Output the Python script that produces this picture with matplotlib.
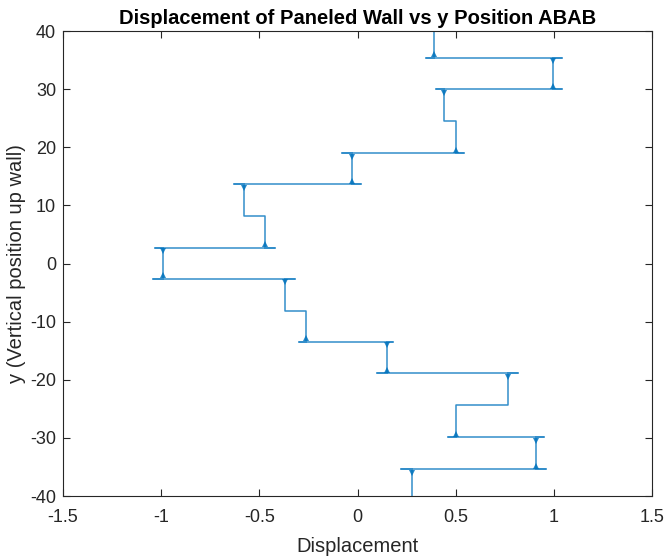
import numpy as np
import matplotlib.pyplot as plt

# wall displacement traced down the wall, top to bottom (panels ABAB...)
path_x = [0.39, 0.39, 0.35, 1.04, 0.995, 0.995, 1.04, 0.40, 0.44, 0.44, 0.50, 0.50,
          0.54, -0.08, -0.03, -0.03, 0.02, -0.63, -0.58, -0.58, -0.47, -0.47,
          -0.42, -1.03, -0.99, -0.99, -1.04, -0.32, -0.37, -0.37, -0.26, -0.26,
          -0.30, 0.18, 0.15, 0.15, 0.10, 0.815, 0.765, 0.765, 0.50, 0.50,
          0.46, 0.95, 0.907, 0.907, 0.96, 0.22, 0.275, 0.275]
path_y = [40, 35.4, 35.4, 35.4, 35.4, 30.0, 30.0, 30.0, 30.0, 24.5, 24.5, 19.0,
          19.0, 19.0, 19.0, 13.6, 13.6, 13.6, 13.6, 8.2, 8.2, 2.7,
          2.7, 2.7, 2.7, -2.6, -2.6, -2.6, -2.6, -8.2, -8.2, -13.5,
          -13.5, -13.5, -13.5, -18.9, -18.9, -18.9, -18.9, -24.4, -24.4, -29.9,
          -29.9, -29.9, -29.9, -35.4, -35.4, -35.4, -35.4, -40]

# ends of the segments where the displacement jumps between panels
jump_y = [35.4, 30.0, 19.0, 13.6, 2.7, -2.6, -13.5, -18.9, -29.9, -35.4]
jump_x_above = [0.39, 0.995, 0.50, -0.03, -0.47, -0.99, -0.26, 0.15, 0.50, 0.907]
jump_x_below = [0.995, 0.44, -0.03, -0.58, -0.99, -0.37, 0.15, 0.765, 0.907, 0.275]

xticks = [-1.5, -1, -0.5, 0, 0.5, 1, 1.5]
xticklabels = ['-1.5', '-1', '-0.5', '0', '0.5', '1', '1.5']
yticks = [-40, -30, -20, -10, 0, 10, 20, 30, 40]
yticklabels = ['-40', '-30', '-20', '-10', '0', '10', '20', '30', '40']

blue = '#0072BD'
grey = '#262626'

plt.rcParams['font.family'] = ['Liberation Sans', 'DejaVu Sans']

fig = plt.figure(figsize=(6.65, 5.56), dpi=100)
ax = fig.add_axes([0.0947, 0.1079, 0.8858, 0.8363])

ax.plot(path_x, path_y, color=blue, lw=1.1, alpha=0.8)

# flared ends of the segments at each jump
jy = np.array(jump_y)
ax.plot(jump_x_above, jy + 0.6, ls='none', marker='^', ms=5, mew=0, color=blue, alpha=0.85)
ax.plot(jump_x_below, jy - 0.6, ls='none', marker='v', ms=5, mew=0, color=blue, alpha=0.85)

ax.set_xlim(-1.5, 1.5)
ax.set_ylim(-40, 40)
ax.set_xticks(xticks)
ax.set_xticklabels(xticklabels)
ax.set_yticks(yticks)
ax.set_yticklabels(yticklabels)
ax.tick_params(direction='in', top=True, right=True, length=5, width=0.8,
               colors=grey, labelsize=13)
ax.tick_params(axis='x', pad=9)
ax.tick_params(axis='y', pad=5)
for s in ax.spines.values():
    s.set_color(grey)
    s.set_linewidth(0.8)

ax.set_title('Displacement of Paneled Wall vs y Position ABAB', fontsize=14.5,
             fontweight='bold', pad=5)
ax.set_xlabel('Displacement', fontsize=14.5, color=grey, labelpad=8)
ax.set_ylabel('y (Vertical position up wall)', fontsize=14.5, color=grey, labelpad=3)

fig.savefig('out.png', dpi=100)
